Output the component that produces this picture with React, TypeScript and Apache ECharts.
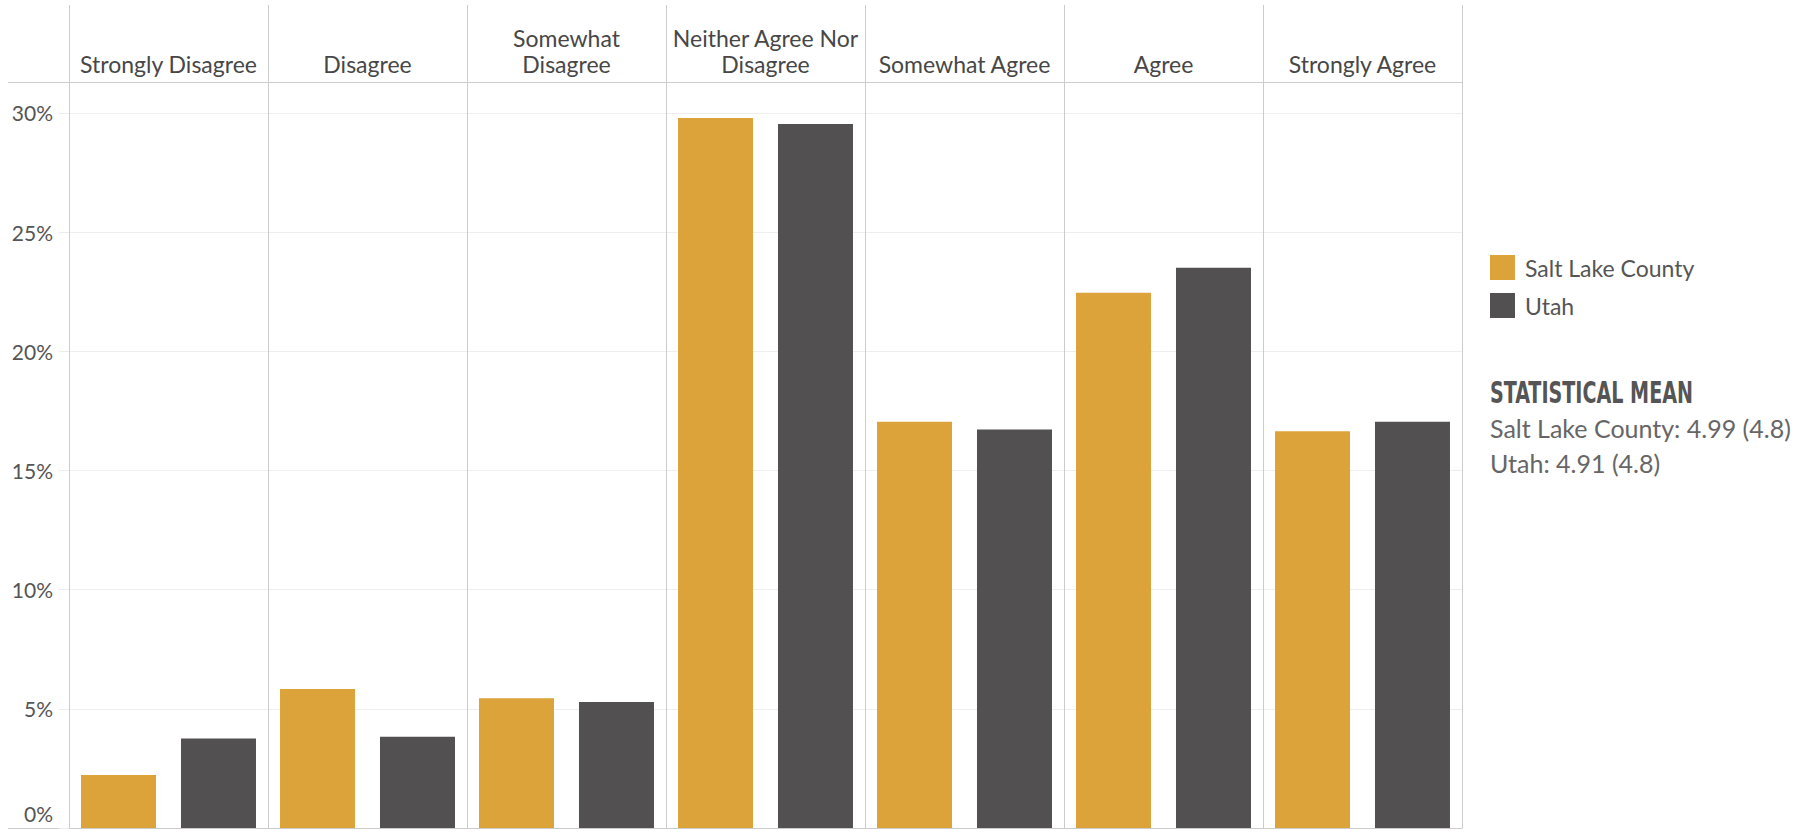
import React, { useEffect, useRef } from "react";
import * as echarts from "echarts";

const categories = [
  "Strongly Disagree",
  "Disagree",
  "Somewhat Disagree",
  "Neither Agree Nor Disagree",
  "Somewhat Agree",
  "Agree",
  "Strongly Agree",
];
const wrapped: Record<string, string> = {
  "Somewhat Disagree": "Somewhat\nDisagree",
  "Neither Agree Nor Disagree": "Neither Agree Nor\nDisagree",
};
const seriesNames = ["Salt Lake County", "Utah"];
const saltLakeValues = [2.22, 5.83, 5.44, 29.79, 17.05, 22.46, 16.65];
const utahValues = [3.75, 3.83, 5.29, 29.54, 16.72, 23.51, 17.05];
const yMax = 31.3;
const yInterval = 5;
const statTitle = "STATISTICAL MEAN";
const statLines = ["Salt Lake County: 4.99 (4.8)", "Utah: 4.91 (4.8)"];

const ORANGE = "#DCA33A";
const DARK = "#525051";
const FONT = "Lato, 'Noto Sans', sans-serif";
const TITLE_FONT = "bold 31px 'Liberation Sans Narrow', 'DejaVu Sans Condensed', sans-serif";

export default function App() {
  const ref = useRef<HTMLDivElement>(null);
  useEffect(() => {
    document.body.style.margin = "0";
    if (!ref.current) return;
    const chart = echarts.init(ref.current, null, { renderer: "svg" });

    let titleScale = 1;
    try {
      const c = document.createElement("canvas").getContext("2d");
      if (c) {
        c.font = TITLE_FONT;
        const w = c.measureText(statTitle).width;
        if (w > 0) titleScale = 203 / w;
      }
    } catch (e) {}

    const left = 69;
    const right = 335;
    chart.setOption({
      animation: false,
      textStyle: { fontFamily: FONT },
      grid: [
        { left, right, top: 5, height: 77 },
        { left, right, top: 82, bottom: 4 },
      ],
      xAxis: [
        {
          gridIndex: 0,
          type: "category",
          data: categories,
          position: "bottom",
          axisLine: { show: true, lineStyle: { color: "#cccccc", width: 1 } },
          axisTick: { show: false },
          axisLabel: {
            inside: true,
            interval: 0,
            margin: 5,
            fontSize: 23,
            lineHeight: 26,
            color: "#474747",
            fontFamily: FONT,
            verticalAlign: "bottom",
            formatter: (v: string) => wrapped[v] || v,
          },
          splitLine: { show: true, lineStyle: { color: "#cccccc", width: 1 } },
        },
        {
          gridIndex: 1,
          type: "category",
          data: categories,
          axisLine: { show: true, lineStyle: { color: "#cccccc", width: 1 } },
          axisTick: { show: false },
          axisLabel: { show: false },
          splitLine: { show: true, lineStyle: { color: "#cccccc", width: 1 } },
        },
      ],
      yAxis: [
        { gridIndex: 0, type: "value", min: 0, max: 1, show: false },
        {
          gridIndex: 1,
          type: "value",
          min: 0,
          max: yMax,
          interval: yInterval,
          axisLine: { show: false },
          axisTick: { show: true, length: 10, lineStyle: { color: "#ececec" } },
          axisLabel: {
            margin: 16,
            fontSize: 21,
            lineHeight: 30,
            color: "#555555",
            fontFamily: FONT,
            showMaxLabel: false,
            verticalAlignMinLabel: "bottom",
            formatter: (v: number) => `${v}%`,
          },
          splitLine: { show: true, lineStyle: { color: "#eeeeee", width: 1 } },
        },
      ],
      legend: {
        orient: "vertical",
        left: 1490,
        top: 255,
        itemWidth: 25,
        itemHeight: 25,
        itemGap: 13,
        icon: "rect",
        padding: 0,
        textStyle: { fontSize: 23, color: "#555555", fontFamily: FONT, padding: [0, 0, 0, 5] },
        data: seriesNames,
      },
      series: [
        {
          name: seriesNames[0],
          type: "bar",
          xAxisIndex: 1,
          yAxisIndex: 1,
          data: saltLakeValues,
          barWidth: 75,
          barGap: "33.3%",
          itemStyle: { color: ORANGE },
        },
        {
          name: seriesNames[1],
          type: "bar",
          xAxisIndex: 1,
          yAxisIndex: 1,
          data: utahValues,
          barWidth: 75,
          barGap: "33.3%",
          itemStyle: { color: DARK },
        },
      ],
      graphic: [
        { type: "line", shape: { x1: 8, y1: 82.5, x2: 69, y2: 82.5 }, style: { stroke: "#cccccc", lineWidth: 1 } },
        { type: "line", shape: { x1: 8, y1: 828.5, x2: 69, y2: 828.5 }, style: { stroke: "#cccccc", lineWidth: 1 } },
        {
          type: "text",
          x: 1490,
          y: 392,
          scaleX: titleScale,
          style: {
            text: statTitle,
            font: TITLE_FONT,
            fill: "#555555",
            verticalAlign: "middle",
          },
        },
        {
          type: "text",
          x: 1490,
          y: 428,
          style: { text: statLines[0], font: "25px Lato, 'Noto Sans', sans-serif", fill: "#666666", verticalAlign: "middle" },
        },
        {
          type: "text",
          x: 1490,
          y: 463,
          style: { text: statLines[1], font: "25px Lato, 'Noto Sans', sans-serif", fill: "#666666", verticalAlign: "middle" },
        },
      ],
    });
    return () => chart.dispose();
  }, []);
  return <div ref={ref} style={{ width: 1797, height: 832 }} />;
}
